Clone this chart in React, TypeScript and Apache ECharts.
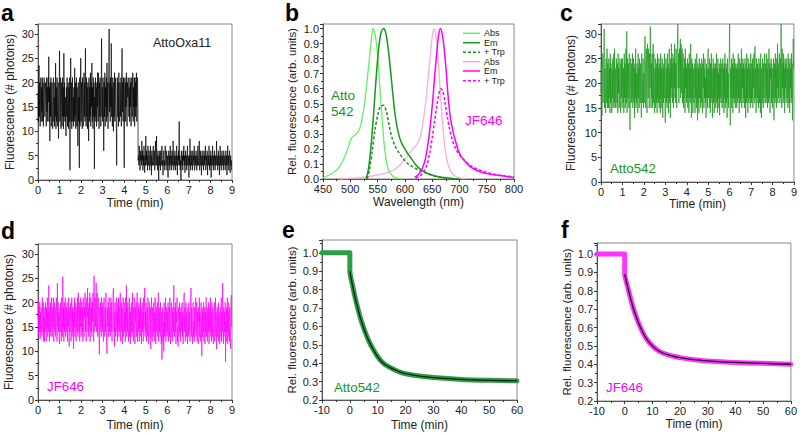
import React, { useEffect, useRef } from "react";
import * as echarts from "echarts";

const FONT = '"Liberation Sans", Arial, Helvetica, sans-serif';

// ---- time traces: one sample per second (1/60 min), 0–9 min ----
const TRACE_DT_MIN = 1 / 60;

const traceAttoOxa11 = [
  18, 12, 21, 23.5, 13, 20, 11, 17, 21, 12, 19, 14, 21, 12, 20, 11, 17, 21, 20, 13,
  13, 20, 16, 11, 21, 14, 19, 12, 21, 16, 25.3, 12, 19, 8, 20, 13, 21, 11, 17, 20,
  14, 10.5, 19, 21, 12, 17, 11, 20, 13, 24, 10.5, 19, 12, 21, 15, 11, 20, 8.5, 14, 19,
  26.5, 12, 21, 14, 10.5, 20, 16, 11, 21, 13, 19, 10.5, 26, 13, 20, 12, 17, 11, 9, 19,
  13, 21, 11, 17, 20, 10.5, 19, 12, 21, 2, 16, 25, 12, 20, 10.5, 14, 21, 12, 17, 11,
  19, 12, 23, 13, 20, 10.5, 17, 21, 11, 19, 14, 7, 20, 12, 17, 2.5, 21, 11, 19, 25,
  12, 20, 14, 10.5, 21, 16, 11, 19, 22, 13, 20, 12, 27, 16, 11, 21, 13, 19, 10.5, 20,
  15, 8, 21, 12, 19, 13, 22, 11, 20, 15, 24, 12, 19, 10.5, 21, 13, 20, 2.3, 17, 12,
  21, 13, 19, 11, 20, 15, 22, 12, 22, 18, 10.5, 20, 13, 21, 16, 11, 20, 29, 13, 19,
  12, 21, 15, 6, 20, 13, 22, 11, 19, 15, 21, 12, 24, 13, 20, 10.5, 18, 22, 31, 14,
  20, 12, 21, 15, 28, 13, 19, 11, 21, 15, 10, 20, 13, 22, 12, 19, 21, 14, 11, 3,
  19, 21, 13, 20, 11, 22, 15, 12, 20, 18, 13, 21, 11, 19, 27, 14, 20, 12, 21, 13,
  2.5, 19, 21, 12, 20, 15, 22, 13, 11, 20, 17, 21, 21, 13, 19, 12, 21, 15, 20, 11,
  19, 21, 13, 20, 22, 12, 19, 15, 21, 11, 21, 13, 20, 15, 22, 12, 19, 21, 15, 4,
  5, 3, 7, 4, 2, 6, 4, 5, 3, 8, 4, 6, 2, 5, 3, 7, 4, 1.5, 5, 3,
  9, 4, 6, 3, 5, 2, 7, 4, 3, 6, 5, 2, 4, 7, 3, 5, 1, 6, 4, 3,
  5, 7, 3, 4, 6, 2, 5, 8, 3, 4, 9, 3, 5, 2, 6, 4, 0, 5, 3, 6,
  4, 2, 6, 3, 5, 7, 3, 4, 1, 5, 6, 3, 4, 2, 7, 5, 3, 4, 6, 2,
  5, 3, 0.5, 4, 6, 3, 5, 2, 7, 4, 3, 5, 2, 6, 4, 3, 8, 4, 2, 5,
  3, 6, 4, 2, 5, 3, 7, 4, 1, 5, 3, 6, 4, 12, 3, 5, 2, 4, 0, 6,
  4, 3, 5, 2, 6, 4, 7, 3, 5, 1.5, 4, 6, 3, 5, 2, 4, 7, 3, 5, 4,
  0.5, 5, 3, 8.5, 4, 2, 6, 3, 5, 4, 2, 6, 3, 5, 4, 7, 2, 4, 5, 3,
  6, 4, 2, 5, 3, 7, 4, 3, 5, 8, 2, 4, 6, 3, 5, 1, 4, 6, 3, 5,
  4, 2, 6, 3, 5, 4, 7, 2, 4, 5, 3, 6, 1, 4, 5, 3, 7, 4, 2, 5,
  3, 6, 0.5, 4, 5, 3, 7, 4, 2, 5, 3, 6, 4, 2, 5, 3, 4, 8, 3, 5,
  2, 4, 6, 3, 5, 1, 4, 7, 3, 5, 2, 4, 6, 3, 5, 4, 2, 6, 3, 4,
  5, 2, 4, 6, 3, 5, 1, 4, 7, 3, 5, 2, 4, 6, 3, 1.5, 5, 3, 4, 2,
];

const traceAtto542 = [
  18, 24, 15, 13.5, 23, 26, 16, 22, 25, 31, 15, 23, 17, 14, 25, 19, 16, 27, 15, 24,
  21, 15, 25, 17, 23, 14, 26, 16, 24, 19, 14, 23, 17, 25, 15, 22, 26, 16, 27, 15,
  23, 17, 15, 25, 19, 16, 24, 14, 26, 18, 23, 15, 21, 25, 16, 14, 24, 17, 25, 15,
  25, 18, 16, 23, 14, 26, 17, 24, 15, 22, 27, 16, 30.5, 14, 25, 17, 21, 24, 15, 26,
  17, 10.5, 15, 25, 19, 16, 24, 17, 26, 15, 22, 25, 16, 23, 13, 24, 17, 27, 15, 22,
  16, 24, 21, 14, 26, 17, 23, 15, 25, 19, 16, 24, 17, 13, 26, 21, 16, 23, 25, 15,
  22, 16, 25, 29.5, 26, 15, 23, 27, 16, 14, 28, 24, 17, 27, 23, 15, 26, 19, 31.5, 24,
  15, 24, 17, 26, 15, 22, 28, 16, 26, 17, 14, 23, 15, 25, 19, 16, 24, 14, 26, 17,
  23, 16, 25, 15, 22, 24, 14, 26, 17, 23, 15, 25, 19, 13, 24, 16, 23, 17, 26, 15,
  12, 22, 25, 16, 23, 15, 26, 17, 24, 14, 21, 27, 16, 23, 13, 25, 17, 28, 19, 24,
  16, 26, 23, 15, 25, 19, 28, 17, 24, 16, 27, 22, 15, 25, 28, 32, 19, 26, 16, 24,
  27, 19, 29, 17, 28, 24, 18, 27, 16, 24, 26, 15, 23, 17, 25, 14, 27, 19, 24, 16,
  23, 17, 25, 15, 22, 24, 14, 26, 17, 23, 16, 28, 19, 13, 25, 17, 24, 14, 23, 20,
  16, 24, 21, 14, 25, 17, 23, 15, 26, 19, 12.5, 24, 16, 23, 14, 25, 17, 21, 24, 15,
  23, 16, 25, 17, 14, 24, 19, 26, 15, 23, 17, 25, 16, 21, 13, 24, 17, 23, 15, 25,
  27, 17, 23, 15, 25, 19, 14, 24, 16, 26, 17, 23, 13, 21, 25, 16, 24, 14, 23, 17,
  24, 15, 21, 26, 16, 23, 14, 25, 17, 22, 15, 24, 13.5, 23, 17, 25, 16, 21, 24, 15,
  22, 25, 16, 23, 14, 24, 17, 26, 15, 21, 24, 16, 23, 13, 25, 17, 22, 15, 24, 26,
  32, 16, 11.5, 23, 17, 25, 15, 22, 24, 14, 26, 17, 23, 16, 25, 19, 15, 24, 17, 23,
  15, 24, 21, 16, 26, 17, 23, 14, 25, 19, 16, 24, 17, 27, 15, 23, 19, 25, 16, 24,
  17, 23, 15, 25, 19, 13, 24, 16, 26, 17, 23, 14, 25, 21, 16, 24, 17, 23, 15, 26,
  21, 16, 24, 17, 25, 15, 23, 19, 26, 16, 24, 27.5, 17, 23, 14, 25, 19, 16, 24, 17,
  23, 15, 25, 19, 16, 24, 14, 26, 17, 13, 23, 16, 25, 19, 15, 24, 17, 23, 26, 16,
  21, 24, 16, 26, 17, 23, 15, 25, 19, 16, 27, 17, 24, 14, 23, 21, 25, 16, 24, 17,
  15, 23, 17, 25, 12.5, 21, 24, 16, 26, 17, 23, 15, 25, 19, 28, 16, 24, 17, 23, 26,
  19, 16, 25, 17, 32, 23, 15, 27, 19, 24, 16, 26, 17, 23, 14, 25, 19, 24, 16, 23,
  25, 17, 23, 15, 26, 19, 16, 24, 14, 25, 19, 23, 16, 26, 17, 24, 12.5, 21, 29, 23,
];

const traceJF646 = [
  17, 20.5, 13, 19, 14, 20, 12.5, 18, 14, 19, 16, 13, 21, 17, 14, 20, 12, 17, 12, 19,
  14, 20, 17, 12, 19, 15, 21, 13, 18, 14, 23.5, 15, 12, 19, 14, 20, 13, 18, 21, 15,
  13, 19, 15, 21, 12, 18, 20, 14, 19, 13, 16, 21, 17, 12, 24, 15, 20, 14, 18, 13,
  11.5, 19, 14, 20, 16, 12, 21, 17, 13, 25.3, 15, 19, 12, 20, 14, 18, 21, 13, 16, 19,
  14, 20, 12, 18, 15, 21, 13, 11, 19, 14, 18, 20, 12, 16, 21, 13, 19, 14, 18, 10.5,
  19, 15, 21, 13, 18, 20, 12, 16, 19, 14, 21, 13, 22, 17, 14, 20, 12, 19, 15, 21,
  13, 18, 20, 14, 19, 12, 21, 15, 13, 19, 17, 22, 14, 20, 12, 16, 21, 17, 23, 14,
  19, 13, 20, 15, 22, 12, 18, 21, 14, 19, 13, 20, 16, 22, 17, 12, 25.5, 19, 14, 21,
  15, 20, 24, 14, 19, 22, 13, 18, 21, 15, 12, 9.3, 19, 14, 20, 17, 13, 21, 15, 19,
  14, 20, 12, 18, 21, 15, 13, 19, 14, 22, 17, 12, 9.5, 19, 15, 20, 13, 18, 21, 14,
  19, 13, 18, 21, 14, 20, 12, 16, 19, 22, 23, 14, 18, 11, 20, 15, 13, 19, 21, 14,
  18, 12, 20, 15, 21, 13, 19, 14, 18, 22, 12, 16, 20, 14, 19, 11.5, 18, 21, 13, 16,
  20, 14, 18, 12, 21, 15, 23.5, 13, 19, 14, 20, 17, 12, 16, 21, 13, 19, 11.5, 18, 14,
  20, 15, 13, 22, 14, 19, 12, 18, 21, 14, 11.5, 19, 16, 20, 13, 18, 22, 12, 16, 19,
  14, 20, 12, 18, 15, 21, 13, 19, 11.5, 16, 20, 14, 18, 12, 21, 15, 19, 23, 13, 18,
  14, 20, 12, 16, 19, 13, 21, 17, 11.5, 15, 20, 16, 13, 19, 10.5, 18, 21, 14, 12, 19,
  15, 13, 20, 14, 18, 12, 21, 16, 11.5, 19, 14, 18, 20, 13, 16, 22, 12, 18, 14, 19,
  13, 20, 16, 11.5, 18, 8.3, 14, 19, 12, 16, 10, 20, 13, 18, 14, 21, 12, 16, 19, 13,
  18, 14, 20, 12, 16, 19, 13, 21, 14, 11.5, 18, 20, 13, 16, 19, 12, 18, 14, 23.5, 15,
  13, 19, 14, 20, 11.5, 18, 16, 21, 12, 15, 11, 19, 16, 13, 20, 14, 18, 12, 19, 16,
  14, 20, 13, 18, 11.5, 16, 21, 22, 14, 19, 12, 16, 20, 13, 18, 14, 11.5, 19, 16, 13,
  20, 14, 18, 12, 16, 21, 23, 13, 19, 14, 11.5, 18, 20, 13, 16, 12, 19, 14, 18, 21,
  13, 16, 20, 12, 18, 14, 11.5, 19, 16, 21, 13, 18, 12, 15, 20, 16, 9, 19, 13, 18,
  14, 20, 12, 16, 19, 11.5, 18, 14, 21, 13, 16, 19, 12, 18, 14, 20, 11.5, 16, 19, 13,
  21, 14, 18, 12, 20, 16, 13, 19, 11.5, 14, 18, 20, 12, 16, 21, 13, 18, 10.5, 14, 19,
  13, 16, 20, 12, 18, 14, 11.5, 19, 16, 13, 21, 12, 18, 14, 24, 16, 11.5, 19, 13, 18,
  14, 20, 7.8, 16, 12, 19, 14, 21, 11.5, 18, 13, 20, 16, 12, 19, 14, 10.5, 18, 21.5, 15,
];

// ---- spectra [wavelength nm, relative value] ----
const attoAbs = [
  [450, 0.01], [460, 0.025], [470, 0.045], [480, 0.08], [490, 0.15], [497, 0.22],
  [502, 0.27], [508, 0.29], [514, 0.31], [520, 0.37], [526, 0.5], [531, 0.66],
  [535, 0.8], [538, 0.9], [540, 0.97], [542, 1.0], [545, 0.97], [548, 0.9],
  [551, 0.78], [554, 0.62], [557, 0.47], [560, 0.32], [563, 0.2], [566, 0.12],
  [570, 0.06], [575, 0.03], [582, 0.01], [595, 0],
];
const attoEm = [
  [529, 0], [533, 0.06], [537, 0.18], [541, 0.35], [545, 0.55], [549, 0.75],
  [553, 0.9], [557, 0.98], [561, 1.0], [565, 0.97], [569, 0.88], [573, 0.75],
  [577, 0.6], [581, 0.46], [585, 0.36], [590, 0.28], [595, 0.23], [600, 0.2],
  [606, 0.165], [612, 0.135], [620, 0.095], [630, 0.06], [640, 0.04],
  [655, 0.02], [670, 0.01], [690, 0.003], [700, 0],
];
const attoEmTrp = [
  [531, 0], [535, 0.06], [540, 0.18], [545, 0.32], [550, 0.42], [555, 0.48],
  [561, 0.49], [566, 0.45], [571, 0.36], [576, 0.28], [582, 0.22], [590, 0.17],
  [598, 0.13], [606, 0.1], [615, 0.08], [625, 0.06], [635, 0.045], [650, 0.025],
  [665, 0.012], [680, 0.005],
];
const jfAbs = [
  [480, 0], [500, 0.005], [520, 0.01], [540, 0.02], [555, 0.03], [570, 0.045],
  [580, 0.06], [590, 0.09], [600, 0.13], [608, 0.17], [615, 0.2], [622, 0.23],
  [628, 0.28], [633, 0.37], [638, 0.5], [642, 0.65], [646, 0.8], [650, 0.94],
  [653, 1.0], [656, 0.97], [659, 0.88], [662, 0.74], [665, 0.58], [668, 0.42],
  [671, 0.29], [674, 0.19], [678, 0.11], [683, 0.06], [690, 0.025], [700, 0.008],
  [710, 0],
];
const jfEm = [
  [618, 0.01], [625, 0.03], [632, 0.07], [638, 0.14], [643, 0.25], [647, 0.37],
  [651, 0.52], [655, 0.7], [659, 0.86], [662, 0.96], [665, 1.0], [668, 0.97],
  [671, 0.9], [675, 0.75], [679, 0.56], [683, 0.42], [688, 0.32], [693, 0.25],
  [698, 0.19], [705, 0.14], [712, 0.11], [720, 0.08], [730, 0.06], [745, 0.04],
  [760, 0.03], [780, 0.02], [800, 0.01],
];
const jfEmTrp = [
  [620, 0.005], [628, 0.02], [635, 0.05], [641, 0.1], [646, 0.18], [650, 0.27],
  [654, 0.37], [658, 0.47], [662, 0.56], [666, 0.6], [670, 0.58], [674, 0.5],
  [678, 0.41], [682, 0.33], [687, 0.26], [692, 0.21], [698, 0.17], [705, 0.14],
  [712, 0.115], [720, 0.09], [730, 0.07], [745, 0.05], [760, 0.035],
  [780, 0.022], [800, 0.015],
];

// ---- bleaching / quenching kinetics [time min, rel. fluorescence] ----
const atto542Measured = [
  [-10, 1.0], [-5, 1.0], [0, 1.0], [0, 0.9], [1, 0.82], [2, 0.75], [3, 0.69],
  [4, 0.635], [5, 0.59], [6, 0.55], [7, 0.515], [8, 0.485], [10, 0.435],
  [12, 0.4], [14, 0.38], [16, 0.365], [18, 0.352], [20, 0.343], [25, 0.33],
  [30, 0.322], [40, 0.312], [50, 0.307], [60, 0.304],
];
const atto542Fit = [
  [0, 0.9], [1, 0.82], [2, 0.75], [3, 0.69], [4, 0.635], [5, 0.59], [6, 0.55],
  [7, 0.515], [8, 0.485], [10, 0.435], [12, 0.4], [14, 0.38], [16, 0.365],
  [18, 0.352], [20, 0.343], [25, 0.33], [30, 0.322], [40, 0.312], [50, 0.307],
  [60, 0.304],
];
const jf646Measured = [
  [-10, 1.0], [-5, 1.0], [0, 1.0], [0, 0.89], [1, 0.825], [2, 0.765],
  [3, 0.71], [4, 0.665], [5, 0.625], [6, 0.59], [7, 0.56], [8, 0.535],
  [10, 0.5], [12, 0.475], [14, 0.46], [16, 0.45], [18, 0.442], [20, 0.436],
  [25, 0.425], [30, 0.418], [35, 0.413], [40, 0.41], [50, 0.405], [60, 0.4],
];
const jf646Fit = [
  [0, 0.89], [1, 0.825], [2, 0.765], [3, 0.71], [4, 0.665], [5, 0.625],
  [6, 0.59], [7, 0.56], [8, 0.535], [10, 0.5], [12, 0.475], [14, 0.46],
  [16, 0.45], [18, 0.442], [20, 0.436], [25, 0.425], [30, 0.418], [35, 0.413],
  [40, 0.41], [50, 0.405], [60, 0.4],
];

const GREEN = "#1a961a";
const LIGHT_GREEN = "#66ee66";
const PINK = "#ffaadd";
const MAGENTA = "#ff00ff";

const tickColor = "#333";

function xAxis(gridIndex: number, min: number, max: number, interval: number, name: string, nameGap: number) {
  return {
    gridIndex, type: "value", min, max, interval, name,
    nameLocation: "middle", nameGap,
    nameTextStyle: { fontSize: 12, color: "#222", fontFamily: FONT },
    axisLine: { show: true, onZero: false, lineStyle: { color: "#555", width: 1 } },
    axisTick: { show: true, inside: false, length: 3, lineStyle: { color: tickColor } },
    minorTick: { show: true, splitNumber: 2, length: 2, lineStyle: { color: tickColor } },
    axisLabel: { fontSize: 11, color: "#222", margin: 4, fontFamily: FONT },
    splitLine: { show: false },
  };
}

function yAxis(gridIndex: number, min: number, max: number, interval: number, name: string, nameGap: number, decimals: number, nameSize = 12) {
  return {
    gridIndex, type: "value", min, max, interval, name,
    nameLocation: "middle", nameGap,
    nameTextStyle: { fontSize: nameSize, color: "#222", fontFamily: FONT },
    axisLine: { show: true, onZero: false, lineStyle: { color: "#555", width: 1 } },
    axisTick: { show: true, inside: false, length: 3, lineStyle: { color: tickColor } },
    minorTick: { show: true, splitNumber: 2, length: 2, lineStyle: { color: tickColor } },
    axisLabel: {
      fontSize: 11, color: "#222", margin: 4, fontFamily: FONT, showMaxLabel: false,
      formatter: (v: number) => v.toFixed(decimals),
    },
    splitLine: { show: false },
  };
}

function lineSeries(gridIndex: number, data: number[][], color: string, width: number, extra: any = {}) {
  return {
    type: "line", xAxisIndex: gridIndex, yAxisIndex: gridIndex, data,
    showSymbol: false, symbol: "none", silent: true,
    lineStyle: { color, width, ...(extra.lineStyle || {}) },
    smooth: extra.smooth ?? false,
    z: extra.z ?? 2,
  };
}

function text(x: number, y: number, str: string, color: string, size: number, bold = false) {
  return {
    type: "text", x, y, silent: true,
    style: {
      text: str, fill: color, fontSize: size, fontFamily: FONT,
      fontWeight: bold ? "bold" : "normal", align: "left", verticalAlign: "middle",
    },
  };
}

function legendRow(y: number, color: string, dashed: boolean, label: string) {
  return [
    {
      type: "line", silent: true,
      shape: { x1: 463, y1: y, x2: 480, y2: y },
      style: { stroke: color, lineWidth: 1.5, lineDash: dashed ? [3, 2] : null },
    },
    text(484, y, label, "#222", 9),
  ];
}

const toSeries = (vals: number[]) => vals.map((v, i) => [i * TRACE_DT_MIN, v]);

export default function App() {
  const ref = useRef<HTMLDivElement>(null);
  useEffect(() => {
    document.body.style.margin = "0";
    if (!ref.current) return;
    const chart = echarts.init(ref.current, null, { renderer: "svg" });
    const gridBase = { show: true, borderColor: "#888", borderWidth: 1, backgroundColor: "transparent" };
    const option: any = {
      animation: false,
      backgroundColor: "#fff",
      grid: [
        { ...gridBase, left: 38, top: 24, width: 194, height: 156 },
        { ...gridBase, left: 323, top: 24, width: 191, height: 155 },
        { ...gridBase, left: 601, top: 24, width: 196, height: 158 },
        { ...gridBase, left: 38, top: 244, width: 194, height: 156 },
        { ...gridBase, left: 322, top: 240, width: 195, height: 160 },
        { ...gridBase, left: 597, top: 243, width: 195, height: 158 },
      ],
      xAxis: [
        xAxis(0, 0, 9, 1, "Time (min)", 17),
        xAxis(1, 450, 800, 50, "Wavelength (nm)", 17),
        xAxis(2, 0, 9, 1, "Time (min)", 15),
        xAxis(3, 0, 9, 1, "Time (min)", 19),
        xAxis(4, -10, 60, 10, "Time (min)", 19),
        xAxis(5, -10, 60, 10, "Time (min)", 17),
      ],
      yAxis: [
        yAxis(0, 0, 32, 5, "Fluorescence (# photons)", 22, 0),
        yAxis(1, 0, 1.03, 0.1, "Rel. fluorescence (arb. units)", 25, 1, 11.5),
        yAxis(2, 0, 32, 5, "Fluorescence (# photons)", 24, 0),
        yAxis(3, 0, 32, 5, "Fluorescence (# photons)", 23, 0),
        yAxis(4, 0.2, 1.07, 0.1, "Rel. fluorescence (arb. units)", 24, 1, 11.5),
        yAxis(5, 0.2, 1.06, 0.1, "Rel. fluorescence (arb. units)", 24, 1, 11.5),
      ],
      series: [
        lineSeries(0, toSeries(traceAttoOxa11), "#000", 0.7),
        lineSeries(1, attoAbs, LIGHT_GREEN, 1.3, { smooth: 0.3 }),
        lineSeries(1, jfAbs, PINK, 1.3, { smooth: 0.3 }),
        lineSeries(1, attoEm, GREEN, 1.5, { smooth: 0.3 }),
        lineSeries(1, attoEmTrp, GREEN, 1.5, { smooth: 0.3, lineStyle: { type: [3, 2] } }),
        lineSeries(1, jfEm, MAGENTA, 1.5, { smooth: 0.3 }),
        lineSeries(1, jfEmTrp, MAGENTA, 1.5, { smooth: 0.3, lineStyle: { type: [3, 2] } }),
        lineSeries(2, toSeries(traceAtto542), GREEN, 0.7),
        lineSeries(3, toSeries(traceJF646), MAGENTA, 0.7),
        lineSeries(4, atto542Measured, "#2aa044", 5, { smooth: 0.2, lineStyle: { cap: "round", join: "round" } }),
        lineSeries(4, atto542Fit, "#1a1a1a", 1.3, { smooth: 0.3, z: 3 }),
        lineSeries(5, jf646Measured, "#ff33ff", 5, { smooth: 0.2, lineStyle: { cap: "round", join: "round" } }),
        lineSeries(5, jf646Fit, "#1a1a1a", 1.3, { smooth: 0.3, z: 3 }),
      ],
      graphic: [
        text(1, 13, "a", "#000", 23, true),
        text(285, 13, "b", "#000", 23, true),
        text(560, 13, "c", "#000", 23, true),
        text(1, 231, "d", "#000", 23, true),
        text(282, 230, "e", "#000", 23, true),
        text(561, 230, "f", "#000", 23, true),
        text(153, 43, "AttoOxa11", "#222", 12.5),
        text(331, 95, "Atto", GREEN, 13.5),
        text(331, 111, "542", GREEN, 13.5),
        text(465, 120, "JF646", MAGENTA, 13.5),
        text(610, 168, "Atto542", GREEN, 13.3),
        text(47, 386, "JF646", MAGENTA, 13.3),
        text(334, 387, "Atto542", GREEN, 13.3),
        text(606, 387, "JF646", MAGENTA, 13.3),
        ...legendRow(33.3, LIGHT_GREEN, false, "Abs"),
        ...legendRow(42.7, GREEN, false, "Em"),
        ...legendRow(52.3, GREEN, true, "+ Trp"),
        ...legendRow(61.7, PINK, false, "Abs"),
        ...legendRow(71, MAGENTA, false, "Em"),
        ...legendRow(80.7, MAGENTA, true, "+ Trp"),
      ],
    };
    chart.setOption(option);
    return () => chart.dispose();
  }, []);
  return <div ref={ref} style={{ width: 800, height: 434 }} />;
}
